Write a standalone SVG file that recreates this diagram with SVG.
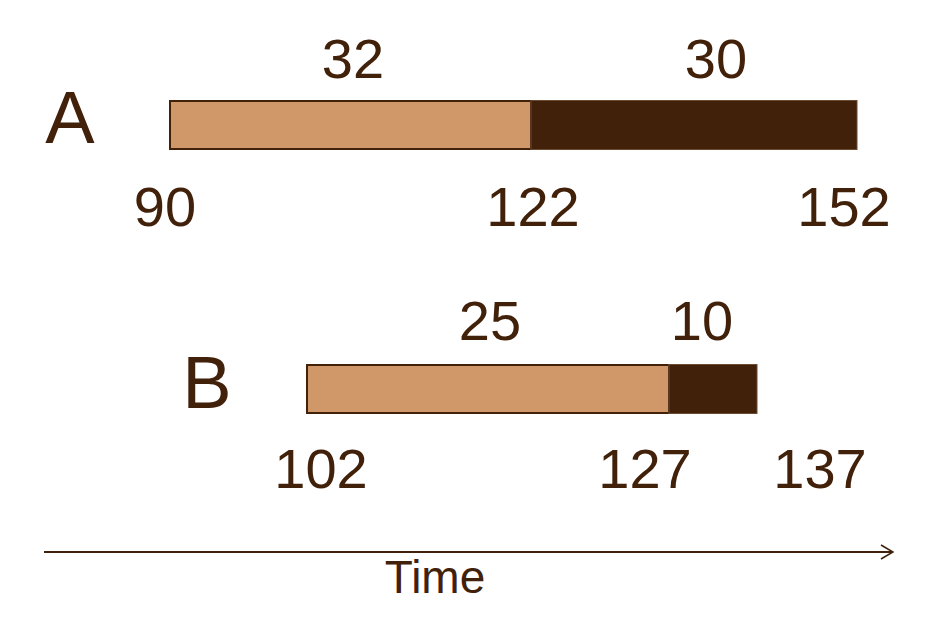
<svg xmlns="http://www.w3.org/2000/svg" width="932" height="635" viewBox="0 0 932 635">
<style>
.t{font-family:"Liberation Sans",Arial,sans-serif;fill:#42210B;text-anchor:middle}
.n{font-size:56px}
.lbl{font-size:74px}
.tan{fill:#D09868;stroke:#42210B;stroke-width:2}
.dk{fill:#42210B;stroke:#6B4C33;stroke-width:1}
</style>
<defs>
<marker id="arr" markerWidth="14" markerHeight="16" refX="13" refY="8" orient="auto" markerUnits="userSpaceOnUse">
<path d="M1,1 L13,8 L1,15" fill="none" stroke="#42210B" stroke-width="1.6"/>
</marker>
</defs>
<rect width="932" height="635" fill="#fff"/>
<g id="rowA">
<text class="t lbl" x="70" y="143">A</text>
<g id="A1"><rect class="tan" x="170" y="101" width="361" height="48"/><text class="t n" x="353" y="78">32</text></g>
<g id="A2"><rect class="dk" x="531" y="100.5" width="326" height="49"/><text class="t n" x="716" y="78">30</text></g>
<text class="t n" x="165" y="226">90</text>
<text class="t n" x="533" y="226">122</text>
<text class="t n" x="844" y="226">152</text>
</g>
<g id="rowB">
<text class="t lbl" x="207" y="408">B</text>
<g id="B1"><rect class="tan" x="307" y="365" width="362" height="48"/><text class="t n" x="490" y="340">25</text></g>
<g id="B2"><rect class="dk" x="669" y="364.5" width="88" height="49"/><text class="t n" x="702" y="340">10</text></g>
<text class="t n" x="321" y="488">102</text>
<text class="t n" x="645" y="488">127</text>
<text class="t n" x="820" y="488">137</text>
</g>
<g id="connectors">
<line x1="44" y1="552" x2="893" y2="552" stroke="#42210B" stroke-width="2" marker-end="url(#arr)"/>
</g>
<g id="axis"><text class="t" x="435" y="593" font-size="46">Time</text></g>
</svg>
